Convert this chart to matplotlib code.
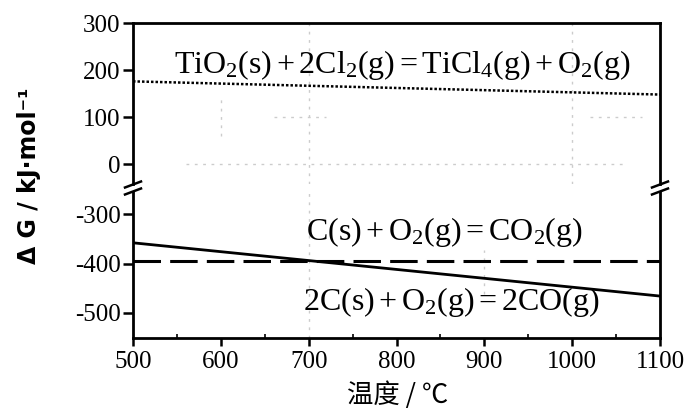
import matplotlib
matplotlib.use("Agg")
import matplotlib.pyplot as plt
import numpy as np

plt.rcParams['mathtext.fontset'] = 'custom'
plt.rcParams['mathtext.rm'] = 'Liberation Serif'
plt.rcParams['mathtext.it'] = 'Liberation Serif:italic'
plt.rcParams['font.family'] = ['Liberation Serif', 'DejaVu Serif']

# Data (temperature in °C, ΔG in kJ/mol)
temps = [500, 1100]
dg_ticl4 = [176, 148]        # TiO2(s)+2Cl2(g)=TiCl4(g)+O2(g)
dg_co2 = [-395, -395]        # C(s)+O2(g)=CO2(g)
dg_co = [-358, -466]         # 2C(s)+O2(g)=2CO(g)

xticks = [500, 600, 700, 800, 900, 1000, 1100]
yticks_top = [0, 100, 200, 300]
yticks_bot = [-500, -400, -300]

W, H = 694, 416
fig = plt.figure(figsize=(W/100, H/100), dpi=100)

L = 133 / W
R = 660 / W
ax_top = fig.add_axes([L, 1 - 184/H, R - L, (184 - 23)/H])
ax_bot = fig.add_axes([L, 1 - 337.5/H, R - L, (337.5 - 192)/H])

lw_sp = 2.0
for ax in (ax_top, ax_bot):
    ax.set_xlim(500, 1100)
    for s in ax.spines.values():
        s.set_linewidth(lw_sp)
        s.set_color('black')
    ax.tick_params(axis='y', direction='out', length=7, width=1.8, pad=2,
                   labelsize=18)
    ax.tick_params(axis='x', direction='out', length=6, width=1.8, pad=4,
                   labelsize=18)

ax_top.set_ylim(-42, 300)
ax_bot.set_ylim(-550, -255)

ax_top.spines['bottom'].set_visible(False)
ax_bot.spines['top'].set_visible(False)
ax_top.set_xticks([])
ax_top.set_yticks(yticks_top)
ax_bot.set_yticks(yticks_bot)
ax_bot.set_yticklabels(['-500', '-400', '-300'])
ax_bot.set_xticks(xticks)
ax_bot.set_xticks(np.arange(550, 1100, 100), minor=True)
ax_bot.tick_params(axis='x', which='minor', direction='in', length=3, width=1.2)

# faint grid remnants
gkw = dict(color='#cccccc', lw=1.0, linestyle=(0, (2, 4)), zorder=0)
ax_top.axhline(0, xmin=(560-500)/600, xmax=(1060-500)/600, **gkw)
ax_top.axhline(100, xmin=(660-500)/600, xmax=(720-500)/600, **gkw)
ax_top.axhline(100, xmin=(1020-500)/600, xmax=(1080-500)/600, **gkw)
ax_top.axvline(700, **gkw)
ax_top.axvline(1000, **gkw)
ax_top.axvline(600, ymin=0.3, ymax=0.55, **gkw)
ax_bot.axvline(700, **gkw)
ax_bot.axvline(900, ymin=0.3, ymax=0.6, **gkw)

# lines
ax_top.plot(temps, dg_ticl4, color='black', lw=1.8, linestyle=(0, (1, 0.8)))
ax_bot.plot(temps, dg_co2, color='black', lw=2.2, linestyle=(0, (9, 3)))
ax_bot.plot(temps, dg_co, color='black', lw=2.0)

tfs = 23
ax_top.text(807, 210, r'$\mathrm{TiO_2(s)+2Cl_2(g)=TiCl_4(g)+O_2(g)}$',
            ha='center', va='center', fontsize=tfs)
ax_bot.text(697, -336, r'$\mathrm{C(s)+O_2(g)=CO_2(g)}$',
            ha='left', va='center', fontsize=tfs)
ax_bot.text(694, -478, r'$\mathrm{2C(s)+O_2(g)=2CO(g)}$',
            ha='left', va='center', fontsize=tfs)

# break marks
def brk(xpix):
    for yp in (184.5, 191.5):
        x0, x1 = (xpix - 8) / W, (xpix + 8) / W
        y0, y1 = 1 - (yp + 3) / H, 1 - (yp - 3) / H
        fig.add_artist(plt.Line2D([x0, x1], [y0, y1], color='black', lw=1.8,
                                  transform=fig.transFigure))
brk(133)
brk(660)

fig.text(398/W, 1 - 395/H, '温度 / ℃', ha='center', va='center',
         fontsize=19, family=['Noto Sans CJK SC', 'DejaVu Sans'])
fig.text(29/W, 1 - 176/H, 'Δ G / kJ·mol⁻¹', ha='center', va='center',
         rotation=90, fontsize=17, fontweight='bold',
         family=['DejaVu Sans'])

fig.savefig('out.png', dpi=100)
